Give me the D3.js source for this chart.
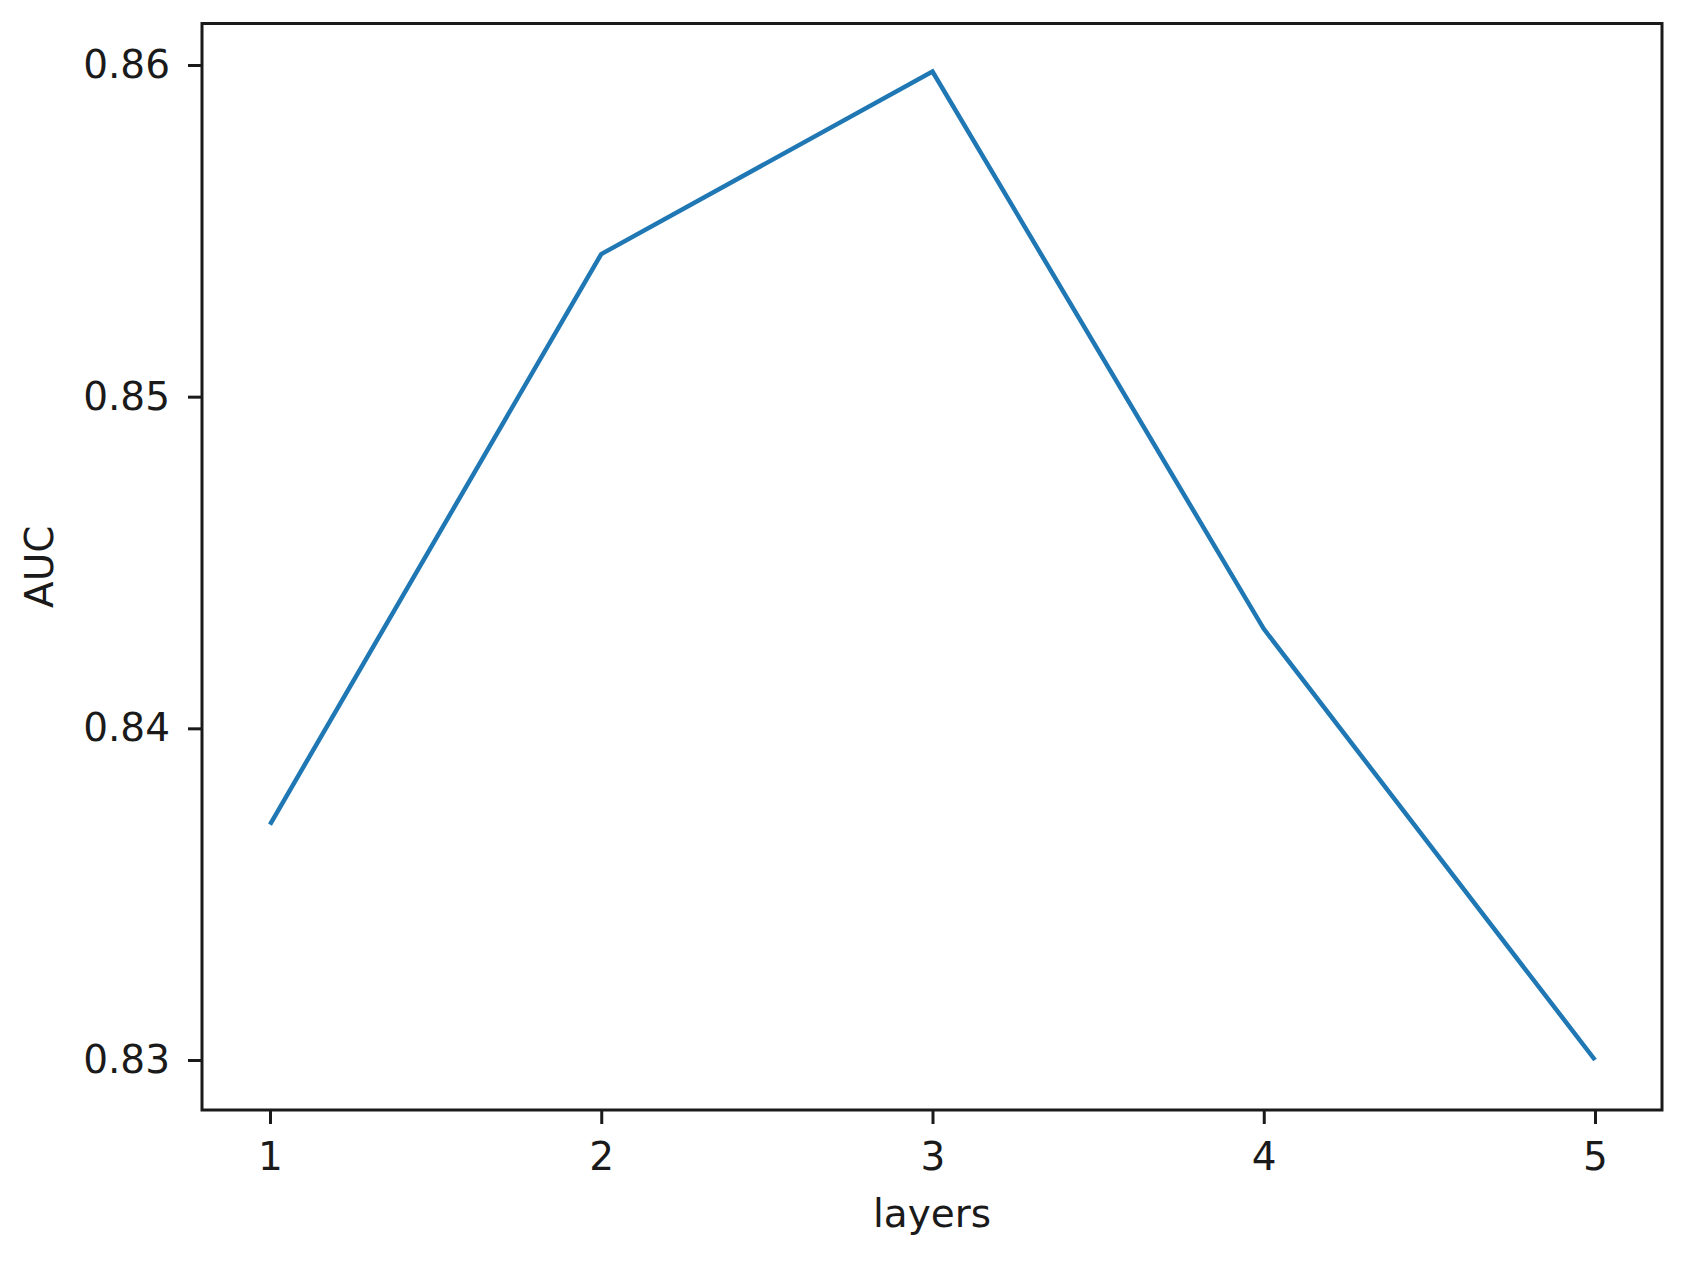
<!DOCTYPE html>
<html>
<head>
<meta charset="utf-8">
<script src="https://cdn.jsdelivr.net/npm/d3@7"></script>
<style>
  html, body { margin: 0; padding: 0; background: #fff; }
  svg { display: block; }
  text { font-family: "DejaVu Sans", sans-serif; fill: #1a1a1a; }
</style>
</head>
<body>
<svg id="chart" width="1682" height="1262"></svg>
<script>
// data
var layers = [1, 2, 3, 4, 5];
var auc    = [0.8371, 0.8543, 0.8598, 0.8430, 0.8300];
var yTicks = [0.83, 0.84, 0.85, 0.86];

var W = 1682, H = 1262;
var margin = {left: 202, right: W - 1662, top: 23.5, bottom: H - 1110};

var svg = d3.select("#chart");

var x = d3.scaleLinear()
  .domain([1, 5])
  .range([270, 1595]);

var y = d3.scaleLinear()
  .domain([0.83, 0.86])
  .range([1060, 65]);

var ink = "#1a1a1a";

// x axis
var xAxis = svg.append("g")
  .attr("transform", "translate(0," + (H - margin.bottom) + ")")
  .call(d3.axisBottom(x).tickValues(layers).tickFormat(d3.format("d")).tickSize(14).tickPadding(18));

// y axis
var yAxis = svg.append("g")
  .attr("transform", "translate(" + margin.left + ",0)")
  .call(d3.axisLeft(y).tickValues(yTicks).tickFormat(d3.format(".2f")).tickSize(14).tickPadding(18));

[xAxis, yAxis].forEach(function(g){
  g.select(".domain").remove();
  g.selectAll(".tick line").attr("stroke", ink).attr("stroke-width", 3);
  g.selectAll(".tick text").attr("font-size", 39).attr("fill", ink)
    .style("font-family", "'DejaVu Sans', sans-serif");
});

// the line
var line = d3.line()
  .x(function(d, i){ return x(layers[i]); })
  .y(function(d){ return y(d); });

svg.append("path")
  .datum(auc)
  .attr("d", line)
  .attr("fill", "none")
  .attr("stroke", "#1f77b4")
  .attr("stroke-width", 4.5)
  .attr("stroke-linejoin", "miter");

// frame
svg.append("rect")
  .attr("x", margin.left)
  .attr("y", margin.top)
  .attr("width", W - margin.left - margin.right)
  .attr("height", H - margin.top - margin.bottom)
  .attr("fill", "none")
  .attr("stroke", ink)
  .attr("stroke-width", 3);

// axis labels
svg.append("text")
  .attr("x", (margin.left + W - margin.right) / 2)
  .attr("y", 1227)
  .attr("text-anchor", "middle")
  .attr("font-size", 39)
  .text("layers");

svg.append("text")
  .attr("transform", "translate(53," + ((margin.top + H - margin.bottom) / 2) + ") rotate(-90)")
  .attr("text-anchor", "middle")
  .attr("font-size", 39)
  .text("AUC");
</script>
</body>
</html>
